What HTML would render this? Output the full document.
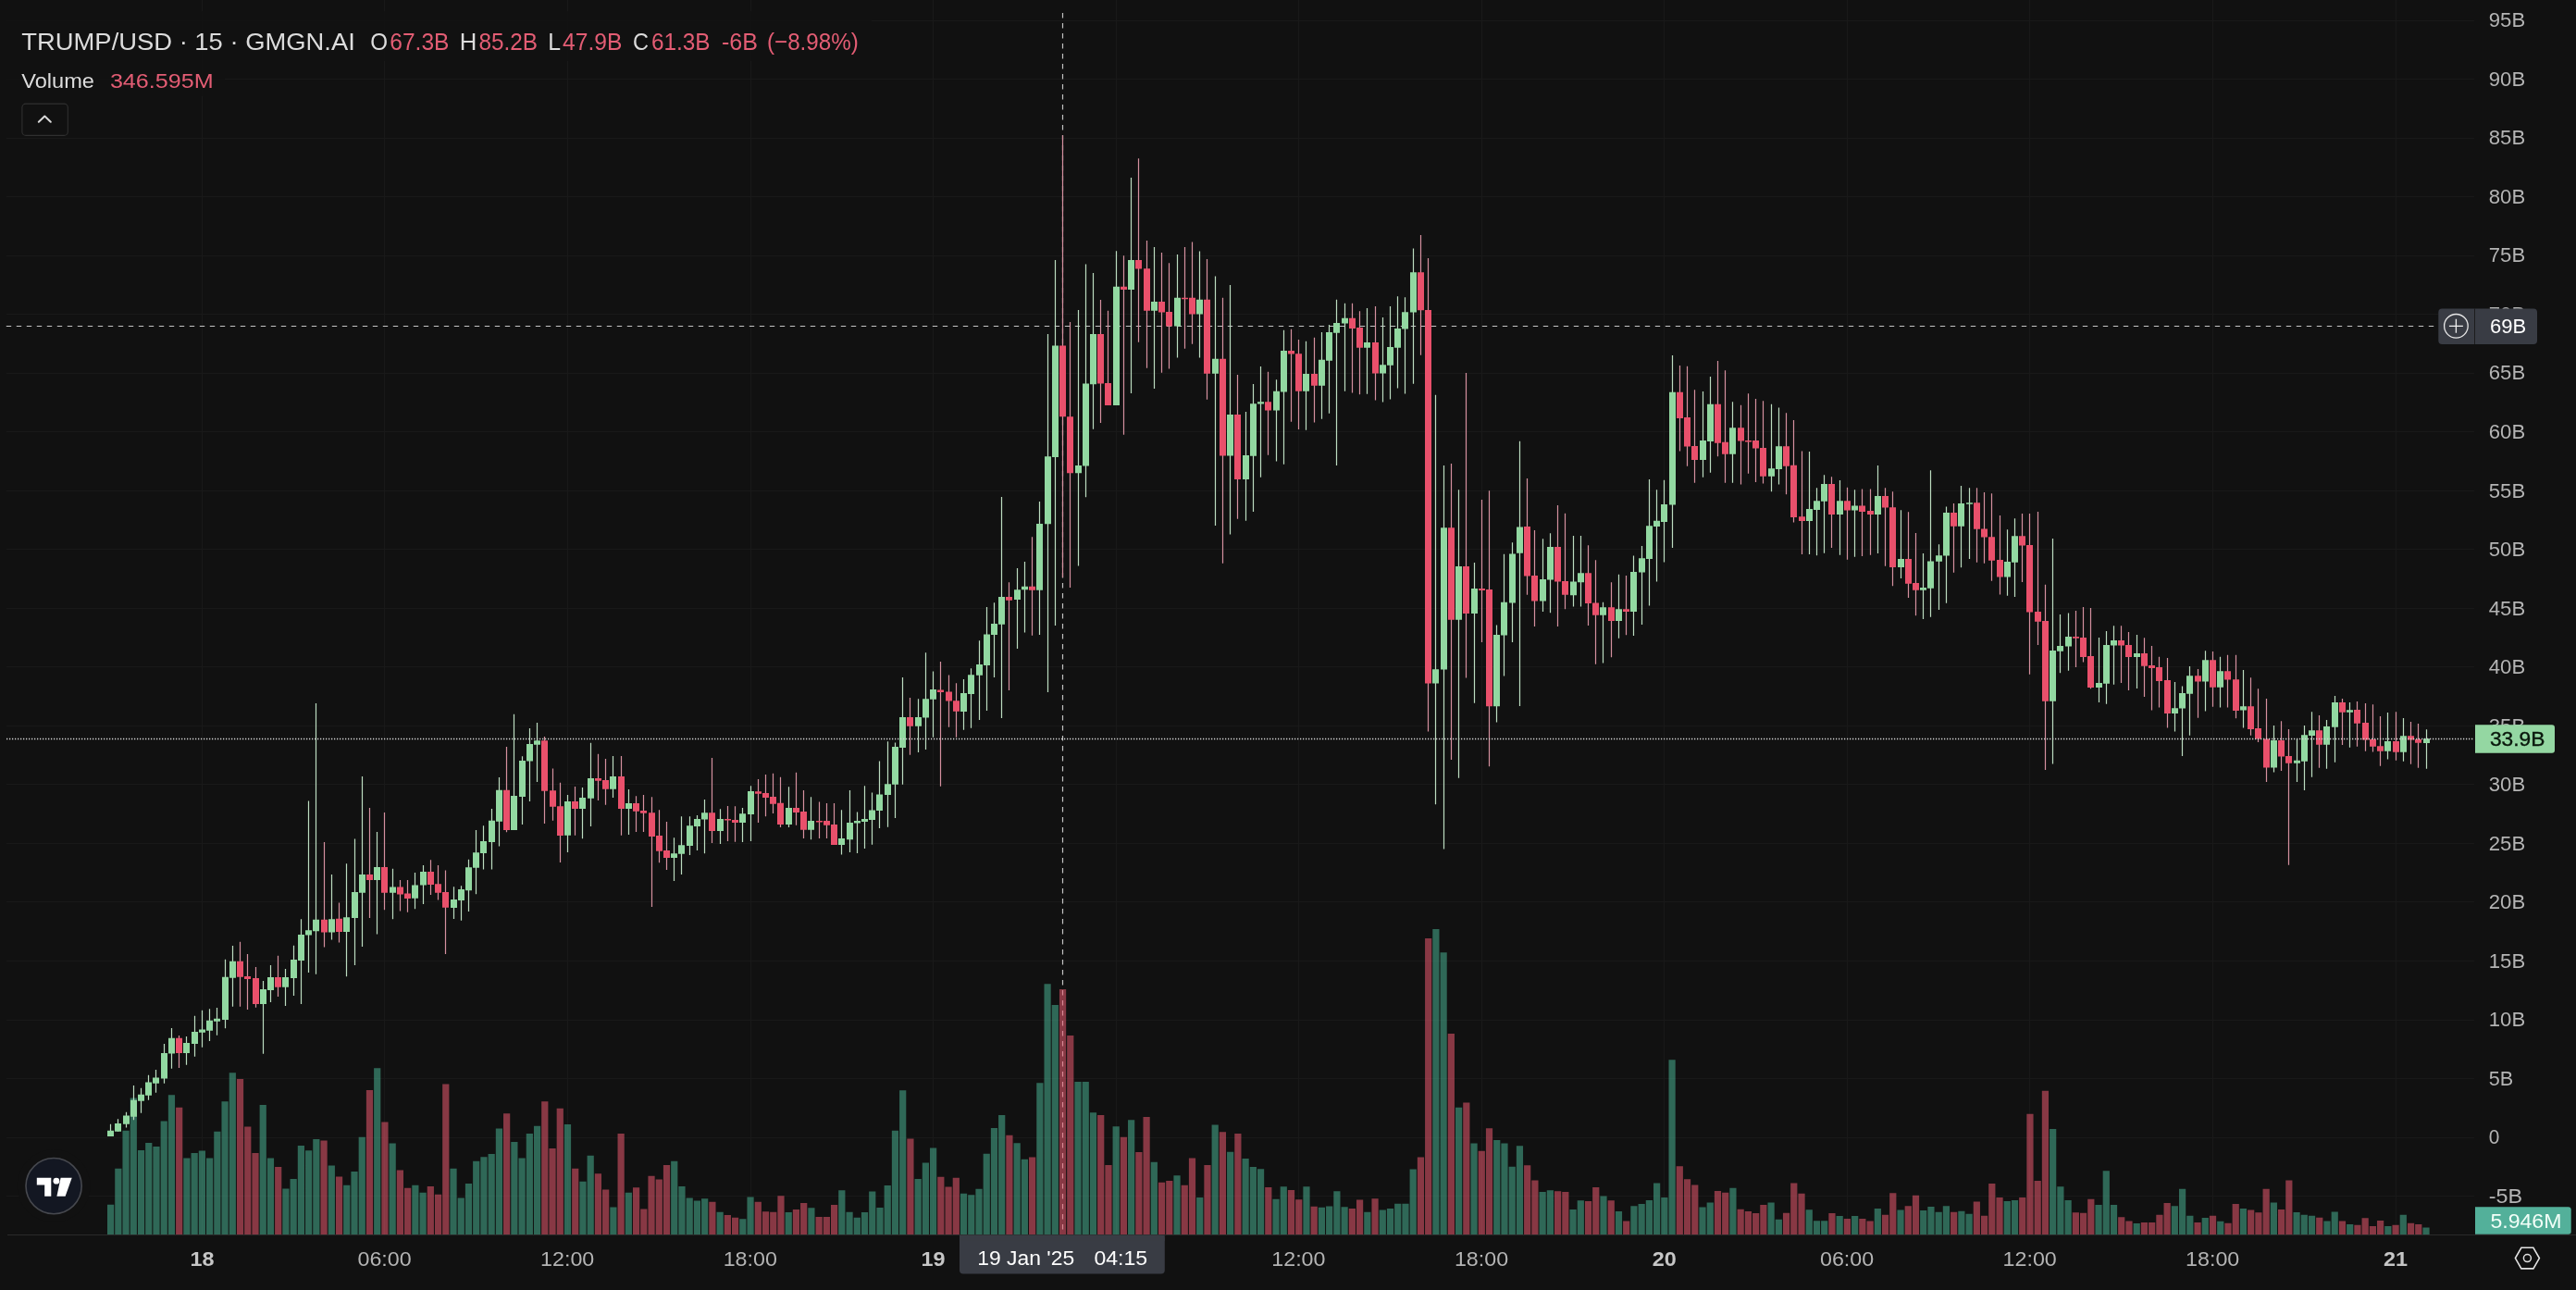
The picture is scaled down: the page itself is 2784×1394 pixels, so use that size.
<!DOCTYPE html><html><head><meta charset="utf-8"><style>
html,body{margin:0;padding:0;background:#111111;width:2784px;height:1394px;overflow:hidden}
svg{display:block;font-family:"Liberation Sans",sans-serif}text{will-change:transform}
</style></head><body>
<svg width="2784" height="1394" viewBox="0 0 2784 1394">
<rect x="0" y="0" width="2784" height="1394" fill="#111111"/>
<path d="M7 22.5H2674M7 85.5H2674M7 149.5H2674M7 212.5H2674M7 276.5H2674M7 339.5H2674M7 403.5H2674M7 466.5H2674M7 530.5H2674M7 593.5H2674M7 657.5H2674M7 720.5H2674M7 784.5H2674M7 847.5H2674M7 911.5H2674M7 974.5H2674M7 1038.5H2674M7 1102.5H2674M7 1165.5H2674M7 1229.5H2674M7 1292.5H2674M218.5 0V1334M415.5 0V1334M613.5 0V1334M811.5 0V1334M1008.5 0V1334M1206.5 0V1334M1403.5 0V1334M1601.5 0V1334M1798.5 0V1334M1996.5 0V1334M2193.5 0V1334M2391.5 0V1334M2589.5 0V1334" stroke="#191919" stroke-width="1" fill="none"/>
<line x1="6.8" y1="352.5" x2="2635" y2="352.5" stroke="#c4c4c4" stroke-width="1.2" stroke-dasharray="5.4 5.6"/>
<line x1="1148.5" y1="14" x2="1148.5" y2="1334" stroke="#c4c4c4" stroke-width="1.2" stroke-dasharray="5.4 5.6"/>
<path d="M116.00 1301.8h7.2V1334h-7.2ZM124.23 1262.8h7.2V1334h-7.2ZM132.46 1221.8h7.2V1334h-7.2ZM140.69 1186.5h7.2V1334h-7.2ZM148.93 1242.9h7.2V1334h-7.2ZM157.16 1234.9h7.2V1334h-7.2ZM165.39 1239.1h7.2V1334h-7.2ZM173.62 1211.6h7.2V1334h-7.2ZM181.85 1183.3h7.2V1334h-7.2ZM198.32 1251.6h7.2V1334h-7.2ZM206.55 1246.0h7.2V1334h-7.2ZM214.78 1243.6h7.2V1334h-7.2ZM223.01 1251.6h7.2V1334h-7.2ZM231.24 1222.8h7.2V1334h-7.2ZM239.47 1190.2h7.2V1334h-7.2ZM247.71 1159.2h7.2V1334h-7.2ZM280.63 1193.9h7.2V1334h-7.2ZM288.86 1251.6h7.2V1334h-7.2ZM305.33 1284.5h7.2V1334h-7.2ZM313.56 1273.9h7.2V1334h-7.2ZM321.79 1238.0h7.2V1334h-7.2ZM330.02 1243.2h7.2V1334h-7.2ZM338.25 1231.1h7.2V1334h-7.2ZM354.72 1259.6h7.2V1334h-7.2ZM371.18 1280.8h7.2V1334h-7.2ZM379.41 1265.9h7.2V1334h-7.2ZM387.64 1228.7h7.2V1334h-7.2ZM404.11 1154.3h7.2V1334h-7.2ZM420.57 1235.4h7.2V1334h-7.2ZM445.26 1280.8h7.2V1334h-7.2ZM453.50 1288.8h7.2V1334h-7.2ZM486.42 1262.8h7.2V1334h-7.2ZM494.65 1294.4h7.2V1334h-7.2ZM502.89 1278.9h7.2V1334h-7.2ZM511.12 1254.8h7.2V1334h-7.2ZM519.35 1250.3h7.2V1334h-7.2ZM527.58 1247.0h7.2V1334h-7.2ZM535.81 1219.4h7.2V1334h-7.2ZM552.27 1233.9h7.2V1334h-7.2ZM560.51 1251.6h7.2V1334h-7.2ZM568.74 1225.0h7.2V1334h-7.2ZM576.97 1216.8h7.2V1334h-7.2ZM609.90 1215.0h7.2V1334h-7.2ZM626.36 1276.7h7.2V1334h-7.2ZM634.59 1248.8h7.2V1334h-7.2ZM659.29 1304.6h7.2V1334h-7.2ZM675.75 1288.8h7.2V1334h-7.2ZM725.14 1254.8h7.2V1334h-7.2ZM733.37 1281.9h7.2V1334h-7.2ZM741.60 1294.4h7.2V1334h-7.2ZM749.83 1297.5h7.2V1334h-7.2ZM758.06 1295.3h7.2V1334h-7.2ZM774.53 1309.7h7.2V1334h-7.2ZM799.22 1317.3h7.2V1334h-7.2ZM807.45 1293.4h7.2V1334h-7.2ZM848.61 1310.1h7.2V1334h-7.2ZM873.31 1305.3h7.2V1334h-7.2ZM906.23 1286.2h7.2V1334h-7.2ZM914.47 1309.7h7.2V1334h-7.2ZM922.70 1315.8h7.2V1334h-7.2ZM930.93 1310.1h7.2V1334h-7.2ZM939.16 1287.5h7.2V1334h-7.2ZM947.39 1304.9h7.2V1334h-7.2ZM955.62 1281.0h7.2V1334h-7.2ZM963.85 1221.7h7.2V1334h-7.2ZM972.09 1178.3h7.2V1334h-7.2ZM988.55 1273.9h7.2V1334h-7.2ZM996.78 1256.5h7.2V1334h-7.2ZM1005.01 1240.6h7.2V1334h-7.2ZM1037.94 1289.7h7.2V1334h-7.2ZM1046.17 1291.2h7.2V1334h-7.2ZM1054.40 1284.7h7.2V1334h-7.2ZM1062.63 1246.7h7.2V1334h-7.2ZM1070.87 1218.9h7.2V1334h-7.2ZM1079.10 1205.0h7.2V1334h-7.2ZM1095.56 1235.3h7.2V1334h-7.2ZM1103.79 1252.8h7.2V1334h-7.2ZM1120.26 1170.2h7.2V1334h-7.2ZM1128.49 1063.3h7.2V1334h-7.2ZM1136.72 1086.0h7.2V1334h-7.2ZM1161.41 1169.1h7.2V1334h-7.2ZM1169.64 1169.1h7.2V1334h-7.2ZM1177.88 1202.3h7.2V1334h-7.2ZM1202.57 1217.2h7.2V1334h-7.2ZM1219.03 1210.2h7.2V1334h-7.2ZM1243.73 1255.8h7.2V1334h-7.2ZM1268.42 1270.2h7.2V1334h-7.2ZM1293.12 1294.0h7.2V1334h-7.2ZM1309.58 1215.6h7.2V1334h-7.2ZM1326.05 1244.7h7.2V1334h-7.2ZM1342.51 1252.1h7.2V1334h-7.2ZM1350.74 1260.9h7.2V1334h-7.2ZM1358.97 1263.3h7.2V1334h-7.2ZM1375.43 1295.8h7.2V1334h-7.2ZM1383.67 1282.3h7.2V1334h-7.2ZM1408.36 1282.3h7.2V1334h-7.2ZM1424.82 1304.8h7.2V1334h-7.2ZM1433.06 1303.4h7.2V1334h-7.2ZM1441.29 1287.2h7.2V1334h-7.2ZM1449.52 1304.2h7.2V1334h-7.2ZM1474.21 1309.7h7.2V1334h-7.2ZM1490.68 1307.5h7.2V1334h-7.2ZM1498.91 1306.1h7.2V1334h-7.2ZM1507.14 1300.7h7.2V1334h-7.2ZM1515.37 1300.7h7.2V1334h-7.2ZM1523.60 1263.5h7.2V1334h-7.2ZM1548.30 1004.1h7.2V1334h-7.2ZM1556.53 1029.3h7.2V1334h-7.2ZM1572.99 1196.8h7.2V1334h-7.2ZM1589.46 1235.6h7.2V1334h-7.2ZM1614.15 1232.1h7.2V1334h-7.2ZM1622.38 1235.6h7.2V1334h-7.2ZM1630.61 1260.8h7.2V1334h-7.2ZM1638.85 1238.3h7.2V1334h-7.2ZM1663.54 1288.0h7.2V1334h-7.2ZM1671.77 1286.3h7.2V1334h-7.2ZM1696.47 1307.0h7.2V1334h-7.2ZM1704.70 1297.2h7.2V1334h-7.2ZM1729.39 1292.6h7.2V1334h-7.2ZM1745.86 1308.9h7.2V1334h-7.2ZM1762.32 1303.3h7.2V1334h-7.2ZM1770.55 1301.1h7.2V1334h-7.2ZM1778.78 1297.0h7.2V1334h-7.2ZM1787.01 1278.6h7.2V1334h-7.2ZM1795.25 1293.9h7.2V1334h-7.2ZM1803.48 1145.2h7.2V1334h-7.2ZM1836.40 1304.5h7.2V1334h-7.2ZM1844.64 1299.4h7.2V1334h-7.2ZM1869.33 1283.7h7.2V1334h-7.2ZM1910.49 1299.4h7.2V1334h-7.2ZM1918.72 1317.8h7.2V1334h-7.2ZM1951.65 1307.2h7.2V1334h-7.2ZM1959.88 1319.2h7.2V1334h-7.2ZM1968.11 1319.2h7.2V1334h-7.2ZM1984.57 1314.1h7.2V1334h-7.2ZM2001.04 1314.1h7.2V1334h-7.2ZM2025.73 1305.9h7.2V1334h-7.2ZM2050.43 1307.6h7.2V1334h-7.2ZM2075.12 1307.9h7.2V1334h-7.2ZM2083.35 1303.9h7.2V1334h-7.2ZM2091.58 1309.8h7.2V1334h-7.2ZM2099.82 1303.2h7.2V1334h-7.2ZM2116.28 1308.8h7.2V1334h-7.2ZM2124.51 1311.7h7.2V1334h-7.2ZM2165.67 1298.0h7.2V1334h-7.2ZM2173.90 1297.0h7.2V1334h-7.2ZM2215.06 1220.0h7.2V1334h-7.2ZM2223.29 1282.3h7.2V1334h-7.2ZM2231.52 1297.0h7.2V1334h-7.2ZM2264.45 1302.0h7.2V1334h-7.2ZM2272.68 1265.2h7.2V1334h-7.2ZM2280.91 1302.0h7.2V1334h-7.2ZM2305.61 1322.0h7.2V1334h-7.2ZM2346.76 1303.2h7.2V1334h-7.2ZM2355.00 1284.8h7.2V1334h-7.2ZM2363.23 1313.8h7.2V1334h-7.2ZM2379.69 1316.1h7.2V1334h-7.2ZM2396.15 1319.8h7.2V1334h-7.2ZM2420.85 1306.1h7.2V1334h-7.2ZM2453.77 1299.5h7.2V1334h-7.2ZM2478.47 1309.9h7.2V1334h-7.2ZM2486.70 1312.7h7.2V1334h-7.2ZM2494.93 1313.8h7.2V1334h-7.2ZM2511.40 1319.4h7.2V1334h-7.2ZM2519.63 1309.4h7.2V1334h-7.2ZM2536.09 1322.9h7.2V1334h-7.2ZM2577.25 1324.9h7.2V1334h-7.2ZM2593.71 1312.7h7.2V1334h-7.2ZM2618.41 1326.5h7.2V1334h-7.2Z" fill="#4dbf9d" fill-opacity="0.5"/>
<path d="M190.08 1196.7h7.2V1334h-7.2ZM255.94 1166.0h7.2V1334h-7.2ZM264.17 1217.6h7.2V1334h-7.2ZM272.40 1246.0h7.2V1334h-7.2ZM297.10 1260.9h7.2V1334h-7.2ZM346.48 1232.4h7.2V1334h-7.2ZM362.95 1271.5h7.2V1334h-7.2ZM395.87 1178.1h7.2V1334h-7.2ZM412.34 1212.5h7.2V1334h-7.2ZM428.80 1264.6h7.2V1334h-7.2ZM437.03 1283.8h7.2V1334h-7.2ZM461.73 1281.9h7.2V1334h-7.2ZM469.96 1290.7h7.2V1334h-7.2ZM478.19 1171.6h7.2V1334h-7.2ZM544.04 1203.2h7.2V1334h-7.2ZM585.20 1190.2h7.2V1334h-7.2ZM593.43 1241.0h7.2V1334h-7.2ZM601.66 1197.7h7.2V1334h-7.2ZM618.13 1262.8h7.2V1334h-7.2ZM642.82 1268.3h7.2V1334h-7.2ZM651.05 1285.6h7.2V1334h-7.2ZM667.52 1225.0h7.2V1334h-7.2ZM683.98 1283.2h7.2V1334h-7.2ZM692.21 1306.5h7.2V1334h-7.2ZM700.44 1270.8h7.2V1334h-7.2ZM708.68 1274.5h7.2V1334h-7.2ZM716.91 1259.0h7.2V1334h-7.2ZM766.30 1298.7h7.2V1334h-7.2ZM782.76 1312.9h7.2V1334h-7.2ZM790.99 1315.8h7.2V1334h-7.2ZM815.69 1298.8h7.2V1334h-7.2ZM823.92 1309.2h7.2V1334h-7.2ZM832.15 1309.7h7.2V1334h-7.2ZM840.38 1292.3h7.2V1334h-7.2ZM856.84 1307.1h7.2V1334h-7.2ZM865.08 1299.9h7.2V1334h-7.2ZM881.54 1315.1h7.2V1334h-7.2ZM889.77 1315.1h7.2V1334h-7.2ZM898.00 1302.1h7.2V1334h-7.2ZM980.32 1230.4h7.2V1334h-7.2ZM1013.24 1271.7h7.2V1334h-7.2ZM1021.48 1282.5h7.2V1334h-7.2ZM1029.71 1272.8h7.2V1334h-7.2ZM1087.33 1226.7h7.2V1334h-7.2ZM1112.02 1250.5h7.2V1334h-7.2ZM1144.95 1069.1h7.2V1334h-7.2ZM1153.18 1119.1h7.2V1334h-7.2ZM1186.11 1205.1h7.2V1334h-7.2ZM1194.34 1259.1h7.2V1334h-7.2ZM1210.80 1228.8h7.2V1334h-7.2ZM1227.27 1245.1h7.2V1334h-7.2ZM1235.50 1207.0h7.2V1334h-7.2ZM1251.96 1277.7h7.2V1334h-7.2ZM1260.19 1276.0h7.2V1334h-7.2ZM1276.66 1280.7h7.2V1334h-7.2ZM1284.89 1251.6h7.2V1334h-7.2ZM1301.35 1259.1h7.2V1334h-7.2ZM1317.81 1223.3h7.2V1334h-7.2ZM1334.28 1224.9h7.2V1334h-7.2ZM1367.20 1283.0h7.2V1334h-7.2ZM1391.90 1286.0h7.2V1334h-7.2ZM1400.13 1296.3h7.2V1334h-7.2ZM1416.59 1303.7h7.2V1334h-7.2ZM1457.75 1306.1h7.2V1334h-7.2ZM1465.98 1296.6h7.2V1334h-7.2ZM1482.45 1295.3h7.2V1334h-7.2ZM1531.84 1250.5h7.2V1334h-7.2ZM1540.07 1013.9h7.2V1334h-7.2ZM1564.76 1117.0h7.2V1334h-7.2ZM1581.22 1191.4h7.2V1334h-7.2ZM1597.69 1243.7h7.2V1334h-7.2ZM1605.92 1219.3h7.2V1334h-7.2ZM1647.08 1259.2h7.2V1334h-7.2ZM1655.31 1275.5h7.2V1334h-7.2ZM1680.00 1287.2h7.2V1334h-7.2ZM1688.24 1288.0h7.2V1334h-7.2ZM1712.93 1298.0h7.2V1334h-7.2ZM1721.16 1283.1h7.2V1334h-7.2ZM1737.63 1297.2h7.2V1334h-7.2ZM1754.09 1319.5h7.2V1334h-7.2ZM1811.71 1260.2h7.2V1334h-7.2ZM1819.94 1274.3h7.2V1334h-7.2ZM1828.17 1280.6h7.2V1334h-7.2ZM1852.87 1287.1h7.2V1334h-7.2ZM1861.10 1288.8h7.2V1334h-7.2ZM1877.56 1306.7h7.2V1334h-7.2ZM1885.79 1308.9h7.2V1334h-7.2ZM1894.03 1311.0h7.2V1334h-7.2ZM1902.26 1302.1h7.2V1334h-7.2ZM1926.95 1310.7h7.2V1334h-7.2ZM1935.18 1278.6h7.2V1334h-7.2ZM1943.42 1289.7h7.2V1334h-7.2ZM1976.34 1311.0h7.2V1334h-7.2ZM1992.80 1317.0h7.2V1334h-7.2ZM2009.27 1317.0h7.2V1334h-7.2ZM2017.50 1319.5h7.2V1334h-7.2ZM2033.96 1312.7h7.2V1334h-7.2ZM2042.19 1289.2h7.2V1334h-7.2ZM2058.66 1303.3h7.2V1334h-7.2ZM2066.89 1291.7h7.2V1334h-7.2ZM2108.05 1309.8h7.2V1334h-7.2ZM2132.74 1298.5h7.2V1334h-7.2ZM2140.97 1313.8h7.2V1334h-7.2ZM2149.21 1278.9h7.2V1334h-7.2ZM2157.44 1294.0h7.2V1334h-7.2ZM2182.13 1294.0h7.2V1334h-7.2ZM2190.36 1203.8h7.2V1334h-7.2ZM2198.59 1275.9h7.2V1334h-7.2ZM2206.83 1178.7h7.2V1334h-7.2ZM2239.75 1310.2h7.2V1334h-7.2ZM2247.98 1310.8h7.2V1334h-7.2ZM2256.22 1295.8h7.2V1334h-7.2ZM2289.14 1315.2h7.2V1334h-7.2ZM2297.37 1319.4h7.2V1334h-7.2ZM2313.84 1321.1h7.2V1334h-7.2ZM2322.07 1321.1h7.2V1334h-7.2ZM2330.30 1312.7h7.2V1334h-7.2ZM2338.53 1299.9h7.2V1334h-7.2ZM2371.46 1321.1h7.2V1334h-7.2ZM2387.92 1313.8h7.2V1334h-7.2ZM2404.38 1321.8h7.2V1334h-7.2ZM2412.62 1301.0h7.2V1334h-7.2ZM2429.08 1307.4h7.2V1334h-7.2ZM2437.31 1310.2h7.2V1334h-7.2ZM2445.54 1284.8h7.2V1334h-7.2ZM2462.01 1306.9h7.2V1334h-7.2ZM2470.24 1275.6h7.2V1334h-7.2ZM2503.16 1315.7h7.2V1334h-7.2ZM2527.86 1319.4h7.2V1334h-7.2ZM2544.32 1323.8h7.2V1334h-7.2ZM2552.55 1316.3h7.2V1334h-7.2ZM2560.79 1324.9h7.2V1334h-7.2ZM2569.02 1319.0h7.2V1334h-7.2ZM2585.48 1323.8h7.2V1334h-7.2ZM2601.94 1321.8h7.2V1334h-7.2ZM2610.17 1322.9h7.2V1334h-7.2Z" fill="#eb5a70" fill-opacity="0.55"/>
<path d="M119.5 1214.8V1227.9M127.5 1209.3V1222.7M136.5 1201.8V1218.6M144.5 1173.0V1210.2M152.5 1175.8V1202.8M160.5 1161.8V1188.8M168.5 1155.9V1180.8M177.5 1128.0V1170.8M185.5 1111.0V1154.8M201.5 1120.0V1150.7M210.5 1097.7V1141.7M218.5 1091.7V1131.7M226.5 1090.2V1125.0M234.5 1088.9V1118.7M243.5 1036.8V1111.2M251.5 1022.0V1087.8M284.5 1060.0V1138.8M292.5 1043.0V1083.0M308.5 1046.9V1086.9M317.5 1021.8V1076.0M325.5 993.3V1084.9M333.5 865.5V1050.9M341.5 760.0V1052.8M358.5 944.9V1015.6M374.5 933.2V1055.3M383.5 906.4V1042.9M391.5 838.9V1023.0M407.5 899.0V1009.4M424.5 938.7V993.3M448.5 943.0V982.3M457.5 935.0V976.9M490.5 958.2V993.0M498.5 957.3V994.8M506.5 928.8V985.0M514.5 897.0V966.2M522.5 892.2V939.5M531.5 874.0V939.5M539.5 840.1V914.5M555.5 771.8V897.0M564.5 817.3V891.0M572.5 787.0V866.0M580.5 781.1V844.9M613.5 858.9V921.0M629.5 850.9V906.3M638.5 802.8V893.0M662.5 817.1V862.0M679.5 853.0V902.1M728.5 905.2V952.0M736.5 882.2V945.0M745.5 882.2V924.1M753.5 881.0V919.1M761.5 863.9V922.2M778.5 874.2V911.9M802.5 873.1V910.0M811.5 849.2V909.0M852.5 850.2V894.0M876.5 861.2V907.2M909.5 875.3V923.4M918.5 854.1V920.9M926.5 877.5V921.9M934.5 849.2V916.9M942.5 856.5V912.8M950.5 822.6V894.9M959.5 801.2V893.8M967.5 802.6V884.1M975.5 732.0V847.8M992.5 755.3V812.9M1000.5 705.2V810.0M1008.5 725.6V796.8M1041.5 734.1V788.7M1049.5 722.3V786.8M1058.5 692.2V777.9M1066.5 656.1V768.0M1074.5 651.2V732.0M1082.5 536.9V775.9M1099.5 614.0V701.1M1107.5 607.0V683.6M1123.5 542.0V686.0M1132.5 361.1V748.1M1140.5 281.0V676.0M1165.5 334.9V611.6M1173.5 285.6V537.3M1181.5 294.9V463.7M1206.5 271.2V438.0M1222.5 192.0V424.9M1247.5 267.0V420.0M1272.5 275.0V386.6M1296.5 271.6V386.6M1313.5 298.6V567.9M1329.5 307.9V577.5M1346.5 445.1V562.7M1354.5 415.0V553.1M1362.5 396.0V515.7M1379.5 410.2V498.6M1387.5 356.7V501.8M1411.5 368.7V464.7M1428.5 359.0V452.8M1436.5 350.9V446.8M1444.5 323.8V502.9M1453.5 327.7V422.7M1477.5 333.0V425.7M1494.5 343.0V434.6M1502.5 330.9V431.6M1510.5 320.2V419.6M1518.5 321.3V425.4M1527.5 268.4V414.7M1551.5 426.7V869.3M1560.5 503.0V917.5M1576.5 529.2V840.8M1593.5 607.9V759.7M1617.5 675.4V780.6M1625.5 598.8V730.6M1634.5 586.3V694.0M1642.5 476.8V763.1M1667.5 582.3V660.9M1675.5 576.2V662.3M1700.5 578.9V655.5M1708.5 578.9V655.5M1732.5 650.7V716.4M1749.5 620.8V689.8M1765.5 600.4V687.0M1774.5 590.1V675.0M1782.5 518.0V654.4M1790.5 529.2V628.4M1798.5 518.8V607.4M1807.5 383.9V591.9M1840.5 423.1V515.8M1848.5 407.1V510.8M1872.5 434.2V521.8M1914.5 436.8V531.3M1922.5 440.4V523.6M1955.5 488.1V599.1M1963.5 527.3V600.2M1971.5 513.3V597.8M1988.5 519.1V599.7M2004.5 529.3V601.7M2029.5 502.9V598.1M2054.5 551.3V625.0M2078.5 598.1V669.1M2086.5 508.2V666.8M2095.5 588.2V659.1M2103.5 547.4V651.8M2119.5 525.0V613.3M2128.5 527.2V603.9M2169.5 572.3V643.7M2177.5 560.3V645.1M2218.5 582.0V825.5M2226.5 663.9V727.3M2235.5 662.5V724.8M2268.5 689.0V759.0M2276.5 682.1V760.8M2284.5 676.2V739.8M2309.5 685.9V743.9M2350.5 736.9V790.4M2358.5 741.4V817.0M2366.5 720.0V794.7M2383.5 703.2V768.5M2399.5 709.8V764.6M2424.5 723.9V786.5M2457.5 784.0V834.4M2482.5 798.2V845.1M2490.5 784.1V853.9M2498.5 769.2V839.7M2514.5 778.1V830.7M2523.5 752.1V823.8M2539.5 758.9V807.7M2580.5 770.0V820.6M2597.5 776.1V822.8M2622.5 788.2V830.7" stroke="#bcdcc0" stroke-width="1.2" fill="none"/>
<path d="M193.5 1119.0V1154.0M259.5 1017.7V1087.8M267.5 1030.9V1090.9M276.5 1044.9V1088.8M300.5 1032.8V1077.0M350.5 910.1V1023.5M366.5 975.4V1018.6M399.5 872.9V992.0M415.5 877.9V983.3M432.5 951.1V984.6M440.5 951.1V985.8M465.5 929.3V967.1M473.5 935.0V972.5M481.5 940.4V1031.0M547.5 807.1V899.3M588.5 795.9V889.9M597.5 830.6V886.8M605.5 845.8V932.0M621.5 849.9V902.7M646.5 814.7V865.1M654.5 819.9V869.8M671.5 817.1V902.7M687.5 860.2V899.0M695.5 858.9V899.0M704.5 861.3V979.9M712.5 875.2V932.2M720.5 888.1V939.9M769.5 818.9V910.9M786.5 871.0V909.0M794.5 871.3V909.7M819.5 842.0V888.9M827.5 836.9V882.2M835.5 835.8V878.9M843.5 839.7V894.0M860.5 834.8V891.8M868.5 854.1V906.1M885.5 866.4V906.1M893.5 868.1V906.1M901.5 868.1V912.9M983.5 754.1V815.8M1016.5 714.9V849.7M1025.5 729.5V785.7M1033.5 738.2V796.8M1090.5 629.3V745.9M1115.5 580.3V686.7M1148.5 146.3V624.0M1156.5 347.9V634.9M1189.5 324.0V456.9M1197.5 335.8V438.0M1214.5 276.3V469.8M1230.5 171.2V369.8M1239.5 260.1V397.7M1255.5 273.1V402.7M1263.5 284.3V398.6M1280.5 267.0V376.7M1288.5 261.4V371.7M1304.5 280.0V431.7M1321.5 321.8V608.8M1337.5 405.1V560.8M1370.5 401.8V491.8M1395.5 355.8V455.8M1403.5 366.9V463.9M1420.5 364.8V456.6M1461.5 327.7V424.5M1469.5 336.2V426.2M1486.5 330.9V432.5M1535.5 253.9V383.7M1543.5 279.1V790.6M1568.5 501.0V820.9M1584.5 403.1V732.6M1601.5 539.9V694.0M1609.5 530.2V828.3M1650.5 517.1V642.7M1658.5 573.0V677.0M1683.5 546.0V677.0M1691.5 554.8V658.3M1716.5 589.3V675.9M1724.5 605.2V717.8M1741.5 629.2V710.2M1757.5 622.0V686.2M1815.5 395.0V487.6M1823.5 395.8V503.7M1831.5 421.3V521.8M1856.5 390.0V493.3M1864.5 400.3V521.8M1881.5 437.7V523.6M1889.5 425.2V511.7M1897.5 431.0V521.1M1905.5 433.3V522.4M1930.5 446.3V534.3M1938.5 454.1V564.6M1947.5 487.6V599.1M1979.5 515.3V591.9M1996.5 526.8V604.8M2012.5 528.4V600.9M2021.5 528.4V599.7M2037.5 527.3V611.8M2045.5 531.2V633.2M2062.5 553.2V645.9M2070.5 576.1V665.3M2111.5 543.9V618.8M2136.5 527.2V607.7M2144.5 532.1V608.8M2152.5 533.2V627.7M2161.5 556.9V642.6M2185.5 555.1V629.0M2193.5 555.1V728.8M2202.5 553.0V697.1M2210.5 631.8V831.9M2243.5 660.0V721.0M2251.5 656.0V715.5M2259.5 657.0V744.3M2292.5 676.2V738.1M2300.5 682.9V745.9M2317.5 689.2V752.9M2325.5 698.0V767.6M2333.5 709.8V764.6M2342.5 710.9V786.5M2375.5 723.0V775.7M2391.5 704.0V763.7M2407.5 707.8V764.6M2416.5 707.8V776.3M2432.5 732.3V794.7M2440.5 744.3V802.1M2449.5 755.0V845.1M2465.5 779.2V833.1M2473.5 787.9V934.7M2506.5 773.0V829.7M2531.5 755.1V805.0M2547.5 758.1V806.7M2556.5 760.0V811.7M2564.5 761.2V812.5M2572.5 774.1V827.7M2589.5 769.2V821.8M2605.5 780.1V825.8M2613.5 782.1V829.7" stroke="#d5909f" stroke-width="1.2" fill="none"/>
<path d="M116 1221.7h7v6.2h-7ZM124 1213.9h7v8.8h-7ZM133 1205.5h7v9.3h-7ZM141 1188.8h7v18.0h-7ZM149 1182.7h7v7.0h-7ZM157 1169.6h7v14.2h-7ZM165 1164.6h7v6.2h-7ZM174 1138.0h7v27.6h-7ZM182 1121.8h7v16.8h-7ZM198 1126.9h7v11.1h-7ZM207 1115.0h7v13.0h-7ZM215 1112.5h7v3.2h-7ZM223 1102.7h7v11.1h-7ZM231 1100.8h7v3.0h-7ZM240 1055.8h7v46.1h-7ZM248 1038.7h7v18.0h-7ZM281 1069.1h7v15.8h-7ZM289 1056.0h7v14.0h-7ZM305 1056.0h7v10.7h-7ZM314 1037.0h7v20.0h-7ZM322 1010.1h7v27.8h-7ZM330 1005.2h7v5.4h-7ZM338 993.7h7v12.5h-7ZM355 993.3h7v14.3h-7ZM371 991.3h7v15.6h-7ZM380 964.0h7v28.0h-7ZM388 944.9h7v19.8h-7ZM404 936.9h7v14.2h-7ZM421 958.5h7v6.2h-7ZM445 956.4h7v14.3h-7ZM454 942.1h7v14.3h-7ZM487 972.1h7v8.9h-7ZM495 960.9h7v12.1h-7ZM503 937.3h7v25.0h-7ZM511 921.3h7v16.4h-7ZM519 909.1h7v12.9h-7ZM528 886.8h7v23.2h-7ZM536 853.8h7v33.9h-7ZM552 860.1h7v36.9h-7ZM561 822.1h7v38.9h-7ZM569 803.9h7v18.7h-7ZM577 800.3h7v4.5h-7ZM610 865.9h7v36.8h-7ZM626 862.0h7v12.1h-7ZM635 841.1h7v21.7h-7ZM659 839.1h7v13.6h-7ZM676 867.9h7v6.2h-7ZM725 922.2h7v4.7h-7ZM733 913.2h7v9.6h-7ZM742 892.3h7v21.7h-7ZM750 885.0h7v8.1h-7ZM758 878.3h7v7.3h-7ZM775 885.1h7v12.9h-7ZM799 879.3h7v9.6h-7ZM808 854.9h7v25.0h-7ZM849 873.1h7v18.0h-7ZM873 887.1h7v9.7h-7ZM906 906.1h7v6.8h-7ZM915 888.9h7v18.3h-7ZM923 887.1h7v2.5h-7ZM931 885.1h7v2.8h-7ZM939 875.5h7v10.5h-7ZM947 858.5h7v17.4h-7ZM956 847.2h7v11.7h-7ZM964 807.1h7v40.7h-7ZM972 775.1h7v32.9h-7ZM989 775.1h7v9.7h-7ZM997 755.3h7v20.1h-7ZM1005 745.0h7v10.7h-7ZM1038 749.0h7v19.9h-7ZM1046 729.2h7v20.7h-7ZM1055 718.0h7v11.8h-7ZM1063 685.5h7v33.4h-7ZM1071 674.0h7v12.0h-7ZM1079 645.0h7v29.8h-7ZM1096 637.2h7v10.9h-7ZM1104 633.7h7v3.5h-7ZM1120 565.9h7v71.8h-7ZM1129 493.2h7v73.1h-7ZM1137 373.4h7v120.5h-7ZM1162 502.9h7v8.4h-7ZM1170 414.6h7v89.0h-7ZM1178 361.1h7v54.1h-7ZM1203 309.7h7v128.3h-7ZM1219 280.9h7v32.0h-7ZM1244 325.9h7v9.9h-7ZM1269 321.8h7v30.7h-7ZM1293 323.7h7v15.8h-7ZM1310 387.8h7v16.0h-7ZM1326 447.9h7v44.6h-7ZM1343 492.0h7v26.0h-7ZM1351 436.3h7v56.4h-7ZM1359 434.3h7v2.2h-7ZM1376 422.7h7v20.9h-7ZM1384 379.0h7v44.6h-7ZM1408 404.0h7v18.7h-7ZM1425 388.8h7v28.0h-7ZM1433 359.0h7v30.7h-7ZM1441 349.1h7v10.7h-7ZM1450 343.7h7v5.9h-7ZM1474 370.1h7v5.7h-7ZM1491 394.2h7v9.4h-7ZM1499 375.1h7v19.6h-7ZM1507 355.0h7v20.8h-7ZM1515 337.2h7v18.4h-7ZM1524 294.2h7v43.4h-7ZM1548 723.3h7v15.3h-7ZM1557 570.2h7v153.3h-7ZM1573 611.9h7v57.9h-7ZM1590 636.1h7v26.8h-7ZM1614 685.9h7v77.4h-7ZM1622 650.8h7v35.7h-7ZM1631 598.4h7v53.2h-7ZM1639 569.5h7v28.2h-7ZM1664 626.0h7v23.6h-7ZM1672 591.1h7v35.5h-7ZM1697 628.4h7v14.8h-7ZM1705 619.2h7v10.0h-7ZM1729 656.3h7v8.4h-7ZM1746 658.3h7v12.8h-7ZM1762 618.0h7v43.1h-7ZM1771 603.2h7v15.4h-7ZM1779 568.3h7v35.8h-7ZM1787 562.7h7v6.2h-7ZM1795 545.0h7v18.9h-7ZM1804 423.8h7v121.7h-7ZM1837 476.0h7v20.9h-7ZM1845 436.8h7v40.1h-7ZM1869 462.3h7v28.5h-7ZM1911 506.3h7v8.4h-7ZM1919 482.3h7v24.6h-7ZM1952 550.1h7v12.8h-7ZM1960 541.2h7v9.8h-7ZM1968 523.1h7v18.6h-7ZM1985 541.2h7v14.8h-7ZM2001 546.4h7v5.2h-7ZM2026 536.1h7v19.9h-7ZM2051 604.0h7v9.0h-7ZM2075 635.0h7v2.8h-7ZM2083 606.4h7v29.4h-7ZM2092 600.2h7v6.6h-7ZM2100 554.1h7v46.5h-7ZM2116 543.9h7v24.8h-7ZM2125 543.2h7v1.5h-7ZM2166 607.1h7v16.4h-7ZM2174 579.2h7v28.5h-7ZM2215 703.0h7v54.8h-7ZM2223 697.9h7v5.9h-7ZM2232 688.0h7v10.6h-7ZM2265 738.1h7v5.0h-7ZM2273 697.1h7v41.6h-7ZM2281 692.0h7v5.4h-7ZM2306 706.1h7v4.0h-7ZM2347 765.2h7v5.8h-7ZM2355 749.1h7v16.5h-7ZM2363 730.3h7v19.4h-7ZM2380 713.3h7v23.2h-7ZM2396 725.3h7v17.4h-7ZM2421 763.3h7v4.3h-7ZM2454 800.1h7v29.5h-7ZM2479 821.8h7v2.9h-7ZM2487 794.2h7v28.6h-7ZM2495 789.2h7v5.7h-7ZM2511 785.1h7v19.6h-7ZM2520 759.1h7v26.7h-7ZM2536 767.2h7v2.5h-7ZM2577 801.0h7v10.7h-7ZM2594 795.2h7v17.5h-7ZM2619 798.2h7v4.8h-7Z" fill="#92d8a1"/>
<path d="M190 1121.8h7v16.2h-7ZM256 1038.7h7v17.1h-7ZM264 1054.9h7v3.0h-7ZM273 1057.0h7v27.9h-7ZM297 1056.0h7v10.7h-7ZM347 993.7h7v13.9h-7ZM363 992.8h7v14.1h-7ZM396 944.9h7v6.2h-7ZM412 936.9h7v27.8h-7ZM429 958.5h7v8.0h-7ZM437 965.5h7v5.4h-7ZM462 942.1h7v13.8h-7ZM470 955.2h7v9.6h-7ZM478 964.0h7v16.7h-7ZM544 853.8h7v43.2h-7ZM585 800.3h7v54.4h-7ZM594 854.2h7v17.5h-7ZM602 871.3h7v31.6h-7ZM618 865.9h7v8.2h-7ZM643 841.1h7v2.6h-7ZM651 843.1h7v9.6h-7ZM668 839.1h7v35.0h-7ZM684 867.9h7v8.9h-7ZM692 876.0h7v2.8h-7ZM701 878.3h7v25.6h-7ZM709 903.1h7v16.6h-7ZM717 919.1h7v7.8h-7ZM766 878.3h7v19.7h-7ZM783 885.1h7v1.5h-7ZM791 886.1h7v2.8h-7ZM816 855.2h7v2.6h-7ZM824 856.9h7v5.2h-7ZM832 861.0h7v7.8h-7ZM840 867.8h7v23.3h-7ZM857 873.1h7v4.8h-7ZM865 877.0h7v19.8h-7ZM882 887.1h7v1.5h-7ZM890 887.1h7v4.7h-7ZM898 891.1h7v21.8h-7ZM980 775.1h7v9.7h-7ZM1013 745.6h7v2.3h-7ZM1022 747.5h7v10.1h-7ZM1030 757.2h7v11.6h-7ZM1087 645.0h7v3.7h-7ZM1112 633.7h7v4.0h-7ZM1145 373.4h7v76.8h-7ZM1153 450.2h7v61.1h-7ZM1186 361.1h7v53.3h-7ZM1194 414.0h7v24.0h-7ZM1211 309.7h7v3.2h-7ZM1227 280.9h7v9.7h-7ZM1236 290.2h7v45.6h-7ZM1252 325.9h7v11.7h-7ZM1260 337.1h7v15.4h-7ZM1277 321.8h7v1.5h-7ZM1285 321.8h7v17.7h-7ZM1301 323.7h7v80.1h-7ZM1318 387.8h7v104.7h-7ZM1334 447.9h7v70.1h-7ZM1367 434.3h7v9.3h-7ZM1392 379.0h7v3.6h-7ZM1400 382.2h7v40.5h-7ZM1417 404.0h7v12.8h-7ZM1458 343.7h7v11.3h-7ZM1466 354.1h7v21.7h-7ZM1483 370.1h7v33.5h-7ZM1532 294.2h7v41.1h-7ZM1540 334.9h7v403.7h-7ZM1565 570.2h7v99.6h-7ZM1581 611.9h7v51.0h-7ZM1598 636.1h7v2.0h-7ZM1606 637.1h7v126.2h-7ZM1647 569.0h7v53.6h-7ZM1655 622.0h7v27.6h-7ZM1680 591.1h7v37.5h-7ZM1688 628.0h7v14.7h-7ZM1713 619.2h7v32.9h-7ZM1721 651.6h7v13.1h-7ZM1738 656.3h7v14.8h-7ZM1754 658.3h7v2.8h-7ZM1812 423.8h7v28.2h-7ZM1820 451.1h7v31.5h-7ZM1828 481.9h7v15.0h-7ZM1853 436.8h7v41.9h-7ZM1861 477.8h7v13.0h-7ZM1878 462.3h7v14.3h-7ZM1886 476.0h7v1.5h-7ZM1894 476.0h7v8.4h-7ZM1902 484.1h7v30.6h-7ZM1927 482.3h7v21.4h-7ZM1935 502.8h7v56.1h-7ZM1944 558.3h7v4.6h-7ZM1976 523.1h7v32.9h-7ZM1993 541.2h7v10.4h-7ZM2009 546.4h7v6.5h-7ZM2018 552.1h7v3.9h-7ZM2034 536.1h7v12.4h-7ZM2042 548.2h7v64.8h-7ZM2059 604.0h7v26.7h-7ZM2067 630.1h7v7.7h-7ZM2108 554.1h7v14.6h-7ZM2133 543.2h7v28.6h-7ZM2141 571.4h7v9.2h-7ZM2149 580.2h7v25.5h-7ZM2158 604.9h7v18.6h-7ZM2182 579.2h7v10.4h-7ZM2190 589.0h7v72.5h-7ZM2199 661.1h7v10.7h-7ZM2207 670.9h7v86.9h-7ZM2240 688.0h7v1.8h-7ZM2248 689.0h7v21.1h-7ZM2256 708.9h7v34.2h-7ZM2289 692.0h7v5.4h-7ZM2297 697.0h7v13.1h-7ZM2314 706.1h7v13.6h-7ZM2322 719.1h7v2.9h-7ZM2330 721.0h7v15.1h-7ZM2339 735.0h7v36.0h-7ZM2372 730.3h7v6.2h-7ZM2388 713.3h7v29.4h-7ZM2404 725.3h7v9.3h-7ZM2413 734.2h7v33.7h-7ZM2429 763.3h7v24.6h-7ZM2437 786.9h7v11.7h-7ZM2446 798.6h7v31.0h-7ZM2462 800.1h7v17.5h-7ZM2470 817.0h7v7.7h-7ZM2503 789.2h7v15.5h-7ZM2528 759.1h7v10.6h-7ZM2544 767.0h7v14.8h-7ZM2553 781.1h7v18.5h-7ZM2561 798.9h7v7.8h-7ZM2569 806.3h7v5.4h-7ZM2586 801.0h7v11.7h-7ZM2602 795.2h7v4.4h-7ZM2610 798.9h7v3.8h-7Z" fill="#e9506b"/>
<line x1="7" y1="798.5" x2="2674" y2="798.5" stroke="#d6d6d6" stroke-width="1.3" stroke-dasharray="1.3 1.7"/>
<line x1="8" y1="1334.5" x2="2784" y2="1334.5" stroke="#2a2a2a" stroke-width="1"/>
<text x="2689.8" y="29.3" font-size="22.0" fill="#b4b4b4" textLength="39.4" lengthAdjust="spacingAndGlyphs">95B</text>
<text x="2689.8" y="92.8" font-size="22.0" fill="#b4b4b4" textLength="39.4" lengthAdjust="spacingAndGlyphs">90B</text>
<text x="2689.8" y="156.4" font-size="22.0" fill="#b4b4b4" textLength="39.4" lengthAdjust="spacingAndGlyphs">85B</text>
<text x="2689.8" y="219.9" font-size="22.0" fill="#b4b4b4" textLength="39.4" lengthAdjust="spacingAndGlyphs">80B</text>
<text x="2689.8" y="283.4" font-size="22.0" fill="#b4b4b4" textLength="39.4" lengthAdjust="spacingAndGlyphs">75B</text>
<text x="2689.8" y="346.9" font-size="22.0" fill="#b4b4b4" textLength="39.4" lengthAdjust="spacingAndGlyphs">70B</text>
<text x="2689.8" y="410.4" font-size="22.0" fill="#b4b4b4" textLength="39.4" lengthAdjust="spacingAndGlyphs">65B</text>
<text x="2689.8" y="474.0" font-size="22.0" fill="#b4b4b4" textLength="39.4" lengthAdjust="spacingAndGlyphs">60B</text>
<text x="2689.8" y="537.5" font-size="22.0" fill="#b4b4b4" textLength="39.4" lengthAdjust="spacingAndGlyphs">55B</text>
<text x="2689.8" y="601.0" font-size="22.0" fill="#b4b4b4" textLength="39.4" lengthAdjust="spacingAndGlyphs">50B</text>
<text x="2689.8" y="664.5" font-size="22.0" fill="#b4b4b4" textLength="39.4" lengthAdjust="spacingAndGlyphs">45B</text>
<text x="2689.8" y="728.0" font-size="22.0" fill="#b4b4b4" textLength="39.4" lengthAdjust="spacingAndGlyphs">40B</text>
<text x="2689.8" y="791.6" font-size="22.0" fill="#b4b4b4" textLength="39.4" lengthAdjust="spacingAndGlyphs">35B</text>
<text x="2689.8" y="855.1" font-size="22.0" fill="#b4b4b4" textLength="39.4" lengthAdjust="spacingAndGlyphs">30B</text>
<text x="2689.8" y="918.6" font-size="22.0" fill="#b4b4b4" textLength="39.4" lengthAdjust="spacingAndGlyphs">25B</text>
<text x="2689.8" y="982.1" font-size="22.0" fill="#b4b4b4" textLength="39.4" lengthAdjust="spacingAndGlyphs">20B</text>
<text x="2689.8" y="1045.6" font-size="22.0" fill="#b4b4b4" textLength="39.4" lengthAdjust="spacingAndGlyphs">15B</text>
<text x="2689.8" y="1109.2" font-size="22.0" fill="#b4b4b4" textLength="39.4" lengthAdjust="spacingAndGlyphs">10B</text>
<text x="2689.8" y="1172.7" font-size="22.0" fill="#b4b4b4" textLength="26.5" lengthAdjust="spacingAndGlyphs">5B</text>
<text x="2689.8" y="1236.2" font-size="22.0" fill="#b4b4b4" textLength="11.6" lengthAdjust="spacingAndGlyphs">0</text>
<text x="2689.8" y="1299.7" font-size="22.0" fill="#b4b4b4" textLength="36.4" lengthAdjust="spacingAndGlyphs">-5B</text>
<text x="205.4" y="1368.1" font-size="22.5" fill="#c6c6c6" textLength="26.0" lengthAdjust="spacingAndGlyphs" font-weight="bold">18</text>
<text x="386.5" y="1368.0" font-size="22.5" fill="#b4b4b4" textLength="58.2" lengthAdjust="spacingAndGlyphs">06:00</text>
<text x="584.1" y="1368.0" font-size="22.5" fill="#b4b4b4" textLength="58.2" lengthAdjust="spacingAndGlyphs">12:00</text>
<text x="781.7" y="1368.0" font-size="22.5" fill="#b4b4b4" textLength="58.2" lengthAdjust="spacingAndGlyphs">18:00</text>
<text x="995.6" y="1368.1" font-size="22.5" fill="#c6c6c6" textLength="26.0" lengthAdjust="spacingAndGlyphs" font-weight="bold">19</text>
<text x="1374.3" y="1368.0" font-size="22.5" fill="#b4b4b4" textLength="58.2" lengthAdjust="spacingAndGlyphs">12:00</text>
<text x="1571.9" y="1368.0" font-size="22.5" fill="#b4b4b4" textLength="58.2" lengthAdjust="spacingAndGlyphs">18:00</text>
<text x="1785.8" y="1368.1" font-size="22.5" fill="#c6c6c6" textLength="26.0" lengthAdjust="spacingAndGlyphs" font-weight="bold">20</text>
<text x="1967.0" y="1368.0" font-size="22.5" fill="#b4b4b4" textLength="58.2" lengthAdjust="spacingAndGlyphs">06:00</text>
<text x="2164.6" y="1368.0" font-size="22.5" fill="#b4b4b4" textLength="58.2" lengthAdjust="spacingAndGlyphs">12:00</text>
<text x="2362.1" y="1368.0" font-size="22.5" fill="#b4b4b4" textLength="58.2" lengthAdjust="spacingAndGlyphs">18:00</text>
<text x="2576.1" y="1368.1" font-size="22.5" fill="#c6c6c6" textLength="26.0" lengthAdjust="spacingAndGlyphs" font-weight="bold">21</text>
<rect x="7" y="12" width="935" height="54" fill="#111111" fill-opacity="0.92"/>
<rect x="7" y="66" width="236" height="38" fill="#111111" fill-opacity="0.92"/>
<text x="23.3" y="54.1" font-size="26.3" fill="#dcdcdc" textLength="360.5" lengthAdjust="spacingAndGlyphs">TRUMP/USD · 15 · GMGN.AI</text>
<text x="400.3" y="54.1" font-size="26.3" fill="#dcdcdc" textLength="18.8" lengthAdjust="spacingAndGlyphs">O</text>
<text x="421.3" y="54.1" font-size="26.3" fill="#e35d74" textLength="64.1" lengthAdjust="spacingAndGlyphs">67.3B</text>
<text x="496.8" y="54.1" font-size="26.3" fill="#dcdcdc" textLength="18.6" lengthAdjust="spacingAndGlyphs">H</text>
<text x="517.4" y="54.1" font-size="26.3" fill="#e35d74" textLength="63.6" lengthAdjust="spacingAndGlyphs">85.2B</text>
<text x="592.3" y="54.1" font-size="26.3" fill="#dcdcdc" textLength="13.8" lengthAdjust="spacingAndGlyphs">L</text>
<text x="608.0" y="54.1" font-size="26.3" fill="#e35d74" textLength="64.4" lengthAdjust="spacingAndGlyphs">47.9B</text>
<text x="684.0" y="54.1" font-size="26.3" fill="#dcdcdc" textLength="17.0" lengthAdjust="spacingAndGlyphs">C</text>
<text x="704.0" y="54.1" font-size="26.3" fill="#e35d74" textLength="63.6" lengthAdjust="spacingAndGlyphs">61.3B</text>
<text x="780.0" y="54.1" font-size="26.3" fill="#e35d74" textLength="39.0" lengthAdjust="spacingAndGlyphs">-6B</text>
<text x="829.0" y="54.1" font-size="26.3" fill="#e35d74" textLength="98.8" lengthAdjust="spacingAndGlyphs">(−8.98%)</text>
<text x="23.3" y="94.5" font-size="21.7" fill="#dcdcdc" textLength="78.7" lengthAdjust="spacingAndGlyphs">Volume</text>
<text x="118.9" y="94.5" font-size="21.7" fill="#e35d74" textLength="111.8" lengthAdjust="spacingAndGlyphs">346.595M</text>
<rect x="23.9" y="112.1" width="49.4" height="34.3" rx="4" fill="none" stroke="#303030" stroke-width="1.1"/>
<path d="M41.8 131.7L48.3 125.5L54.8 131.7" stroke="#d8d8d8" stroke-width="2" fill="none" stroke-linecap="round" stroke-linejoin="round"/>
<path d="M2675 783.2H2758a3 3 0 0 1 3 3V810.8a3 3 0 0 1 -3 3H2675Z" fill="#94d7a2"/>
<text x="2690.9" y="805.8" font-size="21.5" fill="#0a170c" stroke="#0a170c" stroke-width="0.35" textLength="59.5" lengthAdjust="spacingAndGlyphs">33.9B</text>
<rect x="2635.3" y="333.5" width="106.7" height="38.5" rx="4" fill="#393c44"/>
<rect x="2674.1" y="333.5" width="0.9" height="38.5" fill="#1a1a1a"/>
<circle cx="2654.4" cy="352.3" r="12.8" fill="none" stroke="#e8e8e8" stroke-width="1.3"/>
<path d="M2646.9 352.3H2661.9M2654.4 344.8V359.8" stroke="#f0f0f0" stroke-width="1.3"/>
<text x="2691.0" y="360.0" font-size="21.5" fill="#ffffff" textLength="39.2" lengthAdjust="spacingAndGlyphs">69B</text>
<path d="M2675 1304.2H2775.7a3 3 0 0 1 3 3V1331a2.8 2.8 0 0 1 -2.8 2.8H2675Z" fill="#53b09a"/>
<text x="2691.4" y="1327.0" font-size="21.5" fill="#f2fff8" textLength="77.1" lengthAdjust="spacingAndGlyphs">5.946M</text>
<rect x="1037" y="1334.7" width="221.8" height="41.8" rx="4" fill="#393c44"/>
<rect x="1037" y="1334.7" width="221.8" height="6" fill="#393c44"/>
<text x="1056.3" y="1367.2" font-size="22.0" fill="#ffffff" textLength="104.9" lengthAdjust="spacingAndGlyphs">19 Jan '25</text>
<text x="1182.4" y="1367.2" font-size="22.0" fill="#ffffff" textLength="57.7" lengthAdjust="spacingAndGlyphs">04:15</text>
<circle cx="58.1" cy="1281.6" r="39.5" fill="#111111"/>
<circle cx="58.1" cy="1281.6" r="30.1" fill="#131722" stroke="#46484e" stroke-width="1.6"/>
<path d="M39.8 1272.8H55.3V1292.8H48.2V1280.4H39.8Z" fill="#ffffff"/>
<circle cx="60.9" cy="1276.2" r="3.4" fill="#ffffff"/>
<path d="M65.6 1272.8H77.7L70.6 1292.8H61.4Z" fill="#ffffff"/>
<polygon points="2744.4,1359.6 2737.9,1370.9 2724.9,1370.9 2718.4,1359.6 2724.9,1348.3 2737.9,1348.3" fill="none" stroke="#e2e2e2" stroke-width="1.6"/>
<circle cx="2731.4" cy="1359.6" r="4.0" fill="none" stroke="#e2e2e2" stroke-width="1.5"/>
</svg></body></html>
